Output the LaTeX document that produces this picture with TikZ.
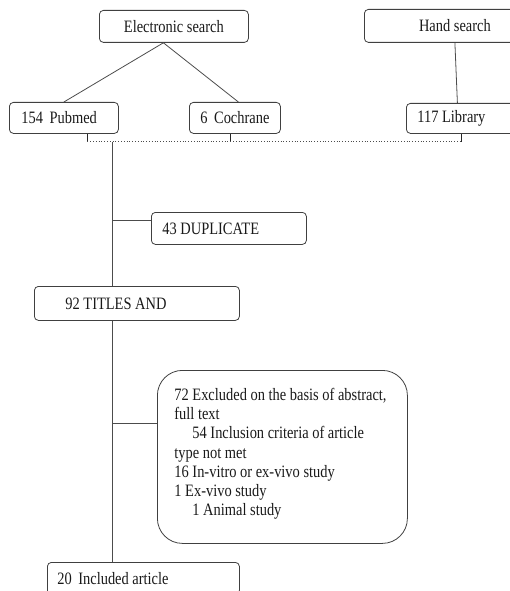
\documentclass[tikz,border=0pt]{standalone}
\usepackage{fontspec}
\setmainfont{Liberation Serif}[FakeStretch=0.83]
\usetikzlibrary{calc}
\begin{document}
\begin{tikzpicture}[x=1pt,y=-1pt,
  box/.style={draw=black!75, line width=0.8pt, rounded corners=4pt, anchor=north west,
    inner ysep=0pt, font=\fontsize{17.4}{19.3}\selectfont, text=black!90},
  lbox/.style={box, align=left},
  conn/.style={draw=black!70, line width=0.8pt},
  tick/.style={draw=black!85, line width=1pt},
  dots/.style={draw=black!70, line width=0.8pt, dotted}]
\useasboundingbox (0,0) rectangle (509,591);
% boxes
\node[box, minimum width=149pt, minimum height=32pt] (es) at (99,10) {Electronic search};
\node[box, minimum width=181pt, minimum height=33pt] (hs) at (364,9) {Hand search};
\node[box, minimum width=109pt, minimum height=31pt, inner xsep=12pt] (pm) at (9,102) {\makebox[85pt][l]{154\, Pubmed}};
\node[box, minimum width=91pt, minimum height=31pt, inner xsep=11pt] (co) at (189,102) {\makebox[69pt][l]{6\, Cochrane}};
\node[box, minimum width=130pt, minimum height=30pt, inner xsep=11pt] (li) at (406,103) {\makebox[108pt][l]{117 Library}};
\node[box, minimum width=155pt, minimum height=32pt, inner xsep=11pt] (du) at (151,212) {\makebox[133pt][l]{43 DUPLICATE}};
\node[box, minimum width=205pt, minimum height=34pt, inner xsep=31pt] (ti) at (34,286) {\makebox[143pt][l]{92 TITLES AND}};
\node[lbox, rounded corners=25pt, minimum width=250pt, minimum height=173pt, inner xsep=17pt] (ex) at (157,370)
  {\makebox[216pt][l]{72 Excluded on the basis of abstract,}\\
   full text\\
   \hspace*{18pt}54 Inclusion criteria of article\\
   type not met\\
   16 In-vitro or ex-vivo study\\
   1 Ex-vivo study\\
   \hspace*{18pt}1 Animal study\\[-9.3pt]\mbox{}};
\node[box, minimum width=192pt, minimum height=32pt, inner xsep=10pt] (in) at (47,562) {\makebox[172pt][l]{20\, Included article}};
% connectors from searches
\draw[conn] ([xshift=-10.5pt]es.south) -- (pm.north);
\draw[conn] ([xshift=-10.5pt]es.south) -- ([xshift=3.5pt]co.north);
\draw[conn] (hs.south) -- ([xshift=-14pt]li.north);
% ticks and dotted merge line
\coordinate (t1) at ($([xshift=23.5pt]pm.south)+(0,8)$);
\coordinate (t2) at ($([xshift=-4.5pt]co.south)+(0,8)$);
\coordinate (t3) at ($([xshift=-10pt]li.south)+(0,8)$);
\draw[tick] ([xshift=23.5pt]pm.south) -- (t1);
\draw[tick] ([xshift=-4.5pt]co.south) -- (t2);
\draw[tick] ([xshift=-10pt]li.south) -- (t3);
\draw[dots] (t1) -- (t3);
% trunk
\coordinate (j) at ($(t1)+(25,0)$);
\draw[conn] (j) -- (j |- ti.north);
\draw[conn] (j |- ti.south) -- (j |- in.north);
\draw[conn] (j |- du.north) ++(0,8) coordinate (d1) -- (du.west |- d1);
\draw[conn] (j |- ex.north) ++(0,53) coordinate (e1) -- (ex.west |- e1);
\end{tikzpicture}
\end{document}
